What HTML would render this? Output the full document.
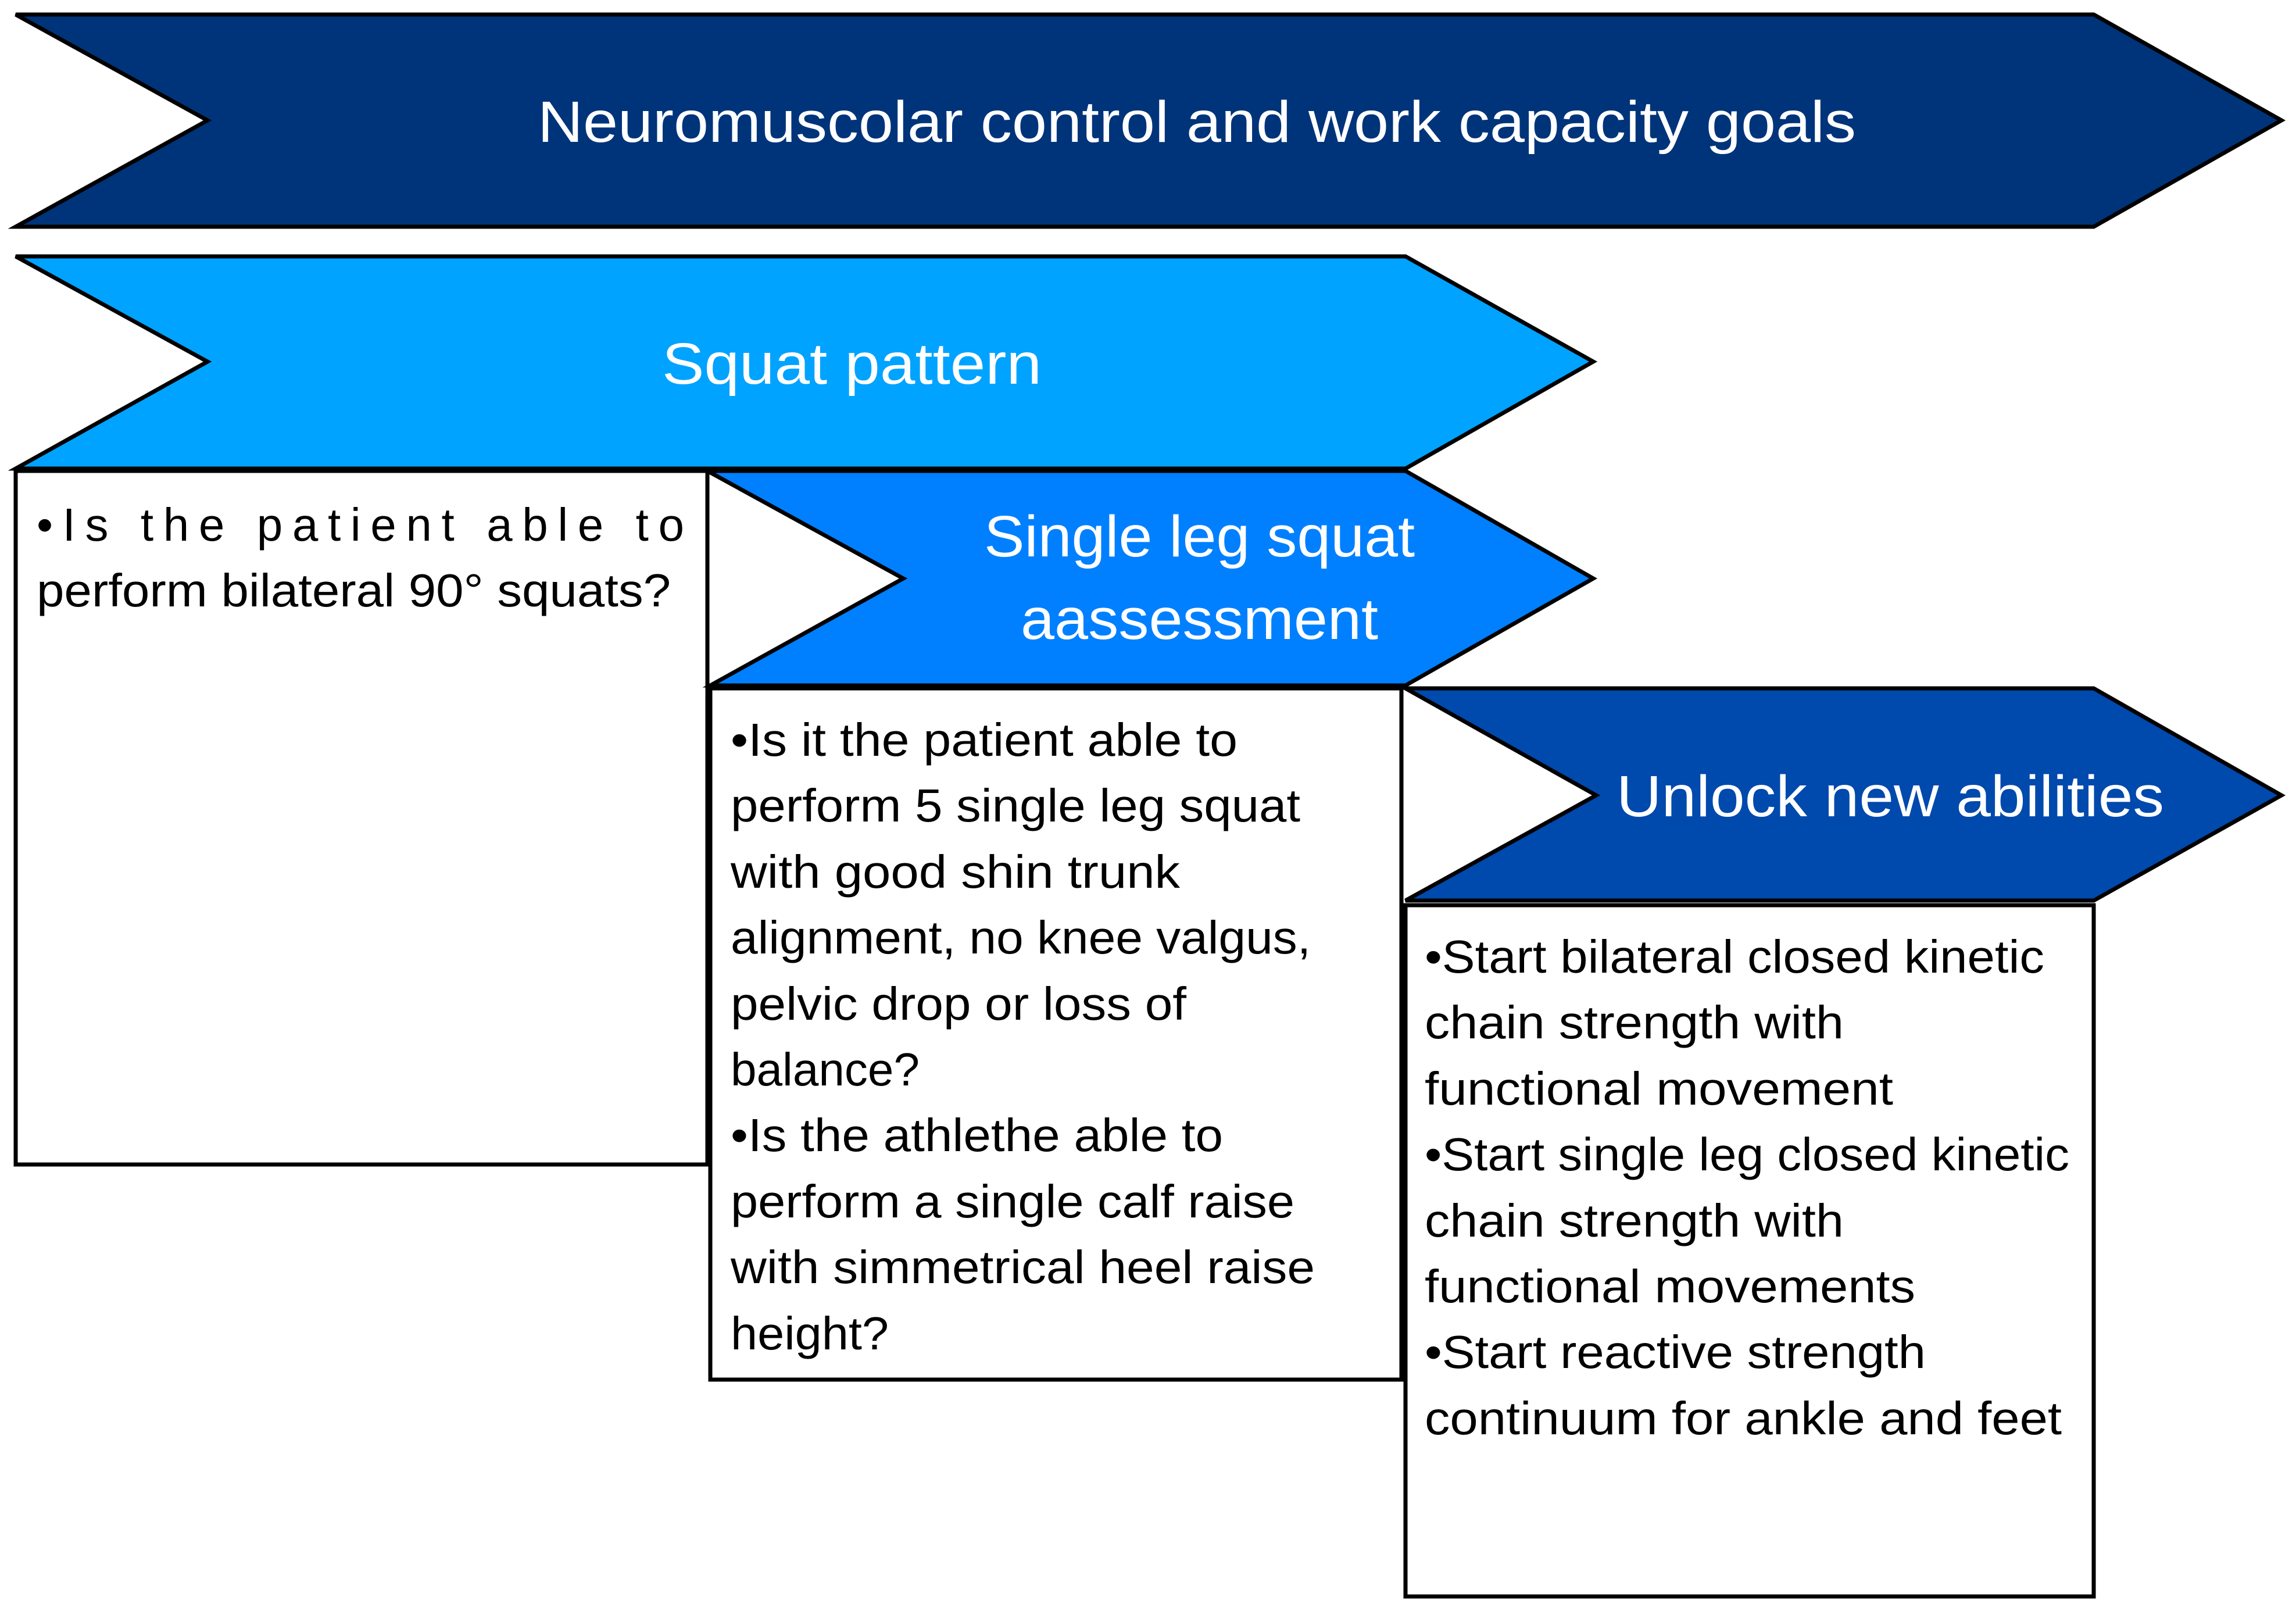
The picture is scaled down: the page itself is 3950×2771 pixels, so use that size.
<!DOCTYPE html>
<html><head><meta charset="utf-8"><style>
html,body{margin:0;padding:0;background:#fff;}
svg{display:block;}
text{font-family:"Liberation Sans",sans-serif;}
.h{fill:#fff;font-size:100px;}
.b{fill:#000;font-size:80px;}
</style></head><body>
<svg width="3950" height="2771" viewBox="0 0 3950 2771" xmlns="http://www.w3.org/2000/svg">
<g stroke="#000" stroke-width="7" stroke-linejoin="miter">
<polygon points="27,25 3602,25 3925,207 3602,390 27,390 357,207" fill="#00347a"/>
<polygon points="27,441 2418,441 2741,622 2418,806 27,806 357,622" fill="#00a3ff"/>
<rect x="27" y="810" width="1190" height="1193" fill="#fff"/>
<polygon points="1217,810 2418,810 2741,995 2418,1179 1222,1179 1554,995" fill="#0080ff"/>
<rect x="1222" y="1184" width="1189" height="1189" fill="#fff"/>
<polygon points="2418,1184 3602,1184 3925,1368 3602,1549 2418,1549 2746,1368" fill="#0049ad"/>
<rect x="2418" y="1557" width="1184" height="1189" fill="#fff"/>
</g>
<text class="h" x="925" y="244" textLength="2268" lengthAdjust="spacingAndGlyphs">Neuromuscolar control and work capacity goals</text>
<text class="h" x="1139" y="660" textLength="653" lengthAdjust="spacingAndGlyphs">Squat pattern</text>
<text class="h" x="1693" y="957" textLength="741" lengthAdjust="spacingAndGlyphs">Single leg squat</text>
<text class="h" x="1756" y="1099" textLength="615" lengthAdjust="spacingAndGlyphs">aassessment</text>
<text class="h" x="2781" y="1404" textLength="942" lengthAdjust="spacingAndGlyphs">Unlock new abilities</text>

<text class="b" x="63" y="930" textLength="1114" lengthAdjust="spacing">•Is the patient able to</text>
<text class="b" x="63" y="1043" textLength="1091" lengthAdjust="spacingAndGlyphs">perform bilateral 90° squats?</text>

<g class="b">
<text class="b" x="1257" y="1300" textLength="872" lengthAdjust="spacingAndGlyphs">•Is it the patient able to</text>
<text class="b" x="1257" y="1413" textLength="980" lengthAdjust="spacingAndGlyphs">perform 5 single leg squat</text>
<text class="b" x="1257" y="1527" textLength="773" lengthAdjust="spacingAndGlyphs">with good shin trunk</text>
<text class="b" x="1257" y="1640" textLength="998" lengthAdjust="spacingAndGlyphs">alignment, no knee valgus,</text>
<text class="b" x="1257" y="1754" textLength="784" lengthAdjust="spacingAndGlyphs">pelvic drop or loss of</text>
<text class="b" x="1257" y="1867" textLength="325" lengthAdjust="spacingAndGlyphs">balance?</text>
<text class="b" x="1257" y="1980" textLength="847" lengthAdjust="spacingAndGlyphs">•Is the athlethe able to</text>
<text class="b" x="1257" y="2094" textLength="970" lengthAdjust="spacingAndGlyphs">perform a single calf raise</text>
<text class="b" x="1257" y="2207" textLength="1005" lengthAdjust="spacingAndGlyphs">with simmetrical heel raise</text>
<text class="b" x="1257" y="2321" textLength="272" lengthAdjust="spacingAndGlyphs">height?</text>
</g>

<text class="b" x="2451" y="1673" textLength="1066" lengthAdjust="spacingAndGlyphs">•Start bilateral closed kinetic</text>
<text class="b" x="2451" y="1786" textLength="721" lengthAdjust="spacingAndGlyphs">chain strength with</text>
<text class="b" x="2451" y="1900" textLength="806" lengthAdjust="spacingAndGlyphs">functional movement</text>
<text class="b" x="2451" y="2013" textLength="1109" lengthAdjust="spacingAndGlyphs">•Start single leg closed kinetic</text>
<text class="b" x="2451" y="2127" textLength="721" lengthAdjust="spacingAndGlyphs">chain strength with</text>
<text class="b" x="2451" y="2240" textLength="844" lengthAdjust="spacingAndGlyphs">functional movements</text>
<text class="b" x="2451" y="2353" textLength="862" lengthAdjust="spacingAndGlyphs">•Start reactive strength</text>
<text class="b" x="2451" y="2467" textLength="1096" lengthAdjust="spacingAndGlyphs">continuum for ankle and feet</text>
</svg>
</body></html>
